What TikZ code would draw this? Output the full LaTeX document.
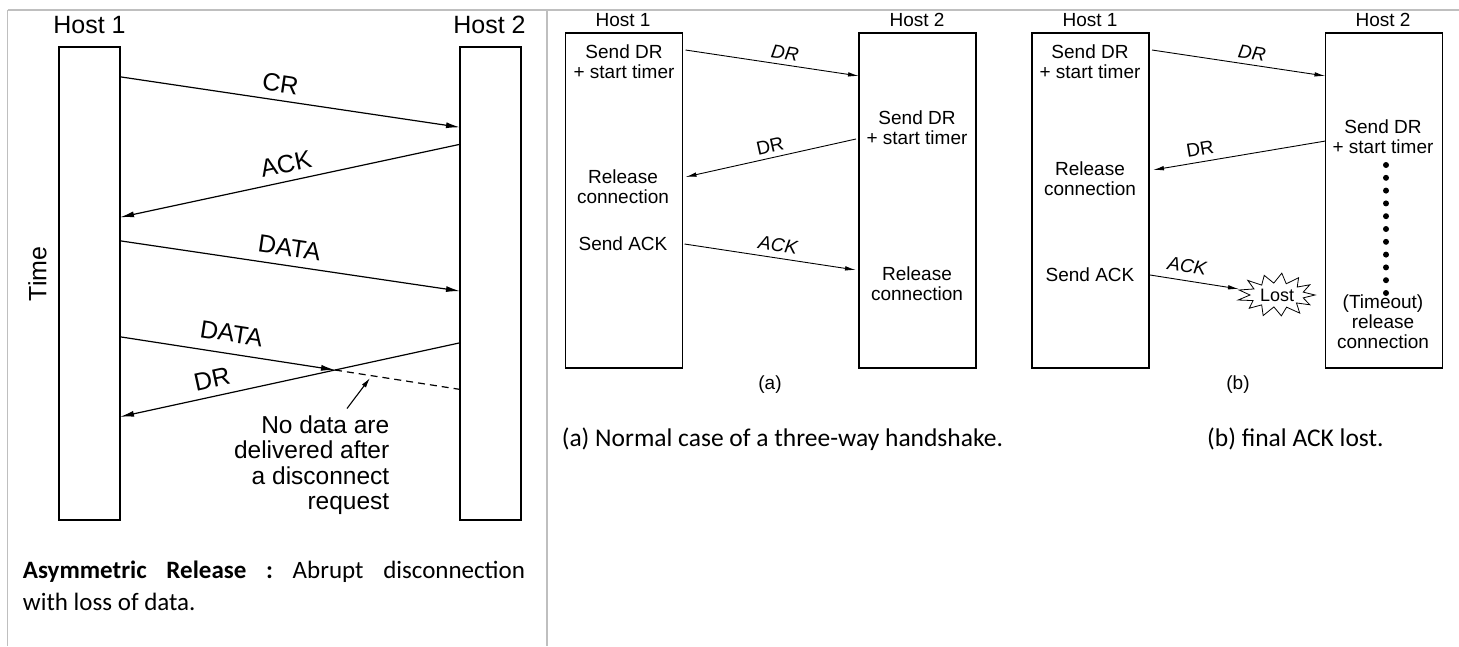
\documentclass[tikz,border=0pt]{standalone}
\usepackage{fontspec}
\setmainfont{Liberation Sans}
\newfontfamily\calib{Carlito}
\usetikzlibrary{arrows.meta}
\definecolor{rulegray}{HTML}{BFBFBF}
\begin{document}
\begin{tikzpicture}[x=1pt,y=-1pt,
  bigbox/.style={draw, line width=1.4pt, minimum width=61pt, minimum height=473pt, inner sep=0pt, outer sep=0pt},
  smallbox/.style={draw, line width=1.1pt, minimum width=117pt, minimum height=335pt, inner sep=0pt, outer sep=0pt},
  bigtxt/.style={font=\fontsize{25}{28}\selectfont, inner sep=0pt},
  notetxt/.style={font=\fontsize{24.5}{25.5}\selectfont, inner sep=0pt, align=right},
  smtxt/.style={font=\fontsize{19}{20}\selectfont, align=center, inner sep=0pt},
  captxt/.style={font=\calib\fontsize{25}{30}\selectfont, inner sep=0pt, anchor=base west},
  bigarr/.style={line width=1.2pt, -{Latex[length=14pt,width=6pt]}},
  smarr/.style={line width=0.9pt, -{Latex[length=11pt,width=4.5pt]}},
  tablerule/.style={rulegray, line width=1.5pt},
  burst/.style={draw, line width=0.8pt},
]
\useasboundingbox (0,0) rectangle (1459,646);

% table rules
\draw[tablerule] (7.5,10) -- (1459,10);
\draw[tablerule] (7.5,10) -- (7.5,646);
\draw[tablerule] (547,10) -- (547,646);

% ---------------- left diagram ----------------
\node[bigbox] (L1) at (89.5,283.3) {};
\node[bigbox] (R1) at (490.5,283.3) {};
\node[bigtxt] (h11) at (89.5,25) {Host 1};
\node[bigtxt] (h12) at (489.5,25) {Host 2};
\node[bigtxt, rotate=90] (time) at (37.5,274) {Time};

\draw[bigarr] ([yshift=-30pt]L1.north east) -- ([yshift=-80.5pt]R1.north west);
\node[bigtxt, rotate=-8.5] (lcr) at (280.5,84) {CR};
\draw[bigarr] ([yshift=-97.5pt]R1.north west) -- ([yshift=-170.5pt]L1.north east);
\node[bigtxt, rotate=12.1] (lack) at (286,164) {ACK};
\draw[bigarr] ([yshift=-194pt]L1.north east) -- ([yshift=-244.3pt]R1.north west);
\node[bigtxt, rotate=-8.4] (ldata1) at (289.5,247.5) {DATA};

\coordinate (cross) at (335,370);
\draw[bigarr] ([yshift=-290pt]L1.north east) -- (cross);
\draw[line width=1.2pt, dash pattern=on 7pt off 5pt] (cross) -- ([yshift=-342.6pt]R1.north west);
\node[bigtxt, rotate=-8.8] (ldata2) at (231.5,333.5) {DATA};
\draw[bigarr] ([yshift=-296pt]R1.north west) -- ([yshift=-370pt]L1.north east);
\node[bigtxt, rotate=12.3] (ldr) at (212,379) {DR};

\node[notetxt, anchor=east] (note) at (389.5,465) {No data are\\delivered after\\a disconnect\\request};
\coordinate (ptail) at (347,408.5);
\coordinate (phead) at (370,378);
\draw[line width=1.1pt, -{Latex[length=10pt,width=5pt]}] (ptail) -- (phead);

\node[captxt] (capl1) at (22.8,578) {\makebox[502pt][l]{\textbf{Asymmetric}\hfill\textbf{Release}\hfill\textbf{:}\hfill Abrupt\hfill disconnection}};
\node[captxt] (capl2) at (22.8,610.7) {with loss of data.};

% ---------------- diagram (a) ----------------
\node[smallbox] (La) at (624,200.5) {};
\node[smallbox] (Ra) at (917.5,200.5) {};
\node[smtxt] (ha1) at (623,20) {Host 1};
\node[smtxt] (ha2) at (917,20) {Host 2};
\node[smtxt] (ta1) at (624,62) {Send DR\\+ start timer};
\node[smtxt] (ta2) at (917,128) {Send DR\\+ start timer};
\node[smtxt] (ta3) at (623,187) {Release\\connection};
\node[smtxt] (ta4) at (623,244) {Send ACK};
\node[smtxt] (ta5) at (917,283.5) {Release\\connection};

\draw[smarr] ([xshift=3pt,yshift=-17pt]La.north east) -- ([yshift=-43pt]Ra.north west);
\node[smtxt, rotate=-8.5, font=\fontsize{19}{20}\selectfont\itshape] (adr1) at (785,53) {DR};
\draw[smarr] ([xshift=-3pt,yshift=-106pt]Ra.north west) -- ([xshift=3pt,yshift=-144pt]La.north east);
\node[smtxt, rotate=12.6] (adr2) at (770,146) {DR};
\draw[smarr] ([xshift=2pt,yshift=-211pt]La.north east) -- ([xshift=-3pt,yshift=-237pt]Ra.north west);
\node[smtxt, rotate=-8.6, font=\fontsize{19}{20}\selectfont\itshape] (aack) at (778,245) {ACK};
\node[smtxt] (alab) at (770,385) {(a)};

% ---------------- diagram (b) ----------------
\node[smallbox] (Lb) at (1090.5,200.5) {};
\node[smallbox] (Rb) at (1384,200.5) {};
\node[smtxt] (hb1) at (1090,20) {Host 1};
\node[smtxt] (hb2) at (1383,20) {Host 2};
\node[smtxt] (tb1) at (1090,62) {Send DR\\+ start timer};
\node[smtxt] (tb2) at (1383,137) {Send DR\\+ start timer};
\node[smtxt] (tb3) at (1090,178.5) {Release\\connection};
\node[smtxt] (tb4) at (1090,275) {Send ACK};
\node[smtxt] (tb5) at (1383,322) {(Timeout)\\release\\connection};

\draw[smarr] ([xshift=3pt,yshift=-17pt]Lb.north east) -- ([yshift=-43pt]Rb.north west);
\node[smtxt, rotate=-8.5, font=\fontsize{19}{20}\selectfont\itshape] (bdr1) at (1252,53) {DR};
\draw[smarr] ([yshift=-108pt]Rb.north west) -- ([xshift=4pt,yshift=-137pt]Lb.north east);
\node[smtxt, rotate=9.5] (bdr2) at (1200,149) {DR};

% lost packet (starburst)
\node[font=\fontsize{18}{20}\selectfont, inner sep=0pt] (lost) at (1277,295) {Lost};
\draw[burst, shift={(lost.center)}] (0:38 and 20)
  -- (13.85:27 and 12) -- (27.7:37 and 21) -- (41.5:26 and 12) -- (55.4:40 and 22)
  -- (69.2:27 and 13) -- (83.1:36 and 21) -- (96.9:26 and 12) -- (110.8:39 and 22)
  -- (124.6:27 and 12) -- (138.5:37 and 20) -- (152.3:27 and 12) -- (166.2:40 and 21)
  -- (180:27 and 12) -- (193.8:39 and 21) -- (207.7:26 and 13) -- (221.5:39 and 22)
  -- (235.4:27 and 12) -- (249.2:36 and 21) -- (263.1:27 and 12) -- (276.9:40 and 22)
  -- (290.8:26 and 12) -- (304.6:38 and 21) -- (318.5:27 and 12) -- (332.3:37 and 22)
  -- (346.2:27 and 12) -- cycle;
\coordinate (losttip) at ([xshift=-38pt,yshift=6pt]lost.center);
\draw[smarr] ([xshift=1pt,yshift=-242pt]Lb.north east) -- (losttip);
\node[smtxt, rotate=-8, font=\fontsize{19}{20}\selectfont\itshape] (back) at (1187,266) {ACK};

\foreach \i in {0,...,10} {
  \pgfmathsetmacro{\dy}{165+12.8*\i}
  \fill (1386,\dy) circle (3pt);
}
\node[smtxt] (blab) at (1238,385) {(b)};

% captions right
\node[captxt, font=\calib\fontsize{25.5}{30}\selectfont] (capa) at (561.6,446.7) {(a) Normal case of a three-way handshake.};
\node[captxt, font=\calib\fontsize{25.5}{30}\selectfont] (capb) at (1207,446.7) {(b) final ACK lost.};
\end{tikzpicture}
\end{document}
